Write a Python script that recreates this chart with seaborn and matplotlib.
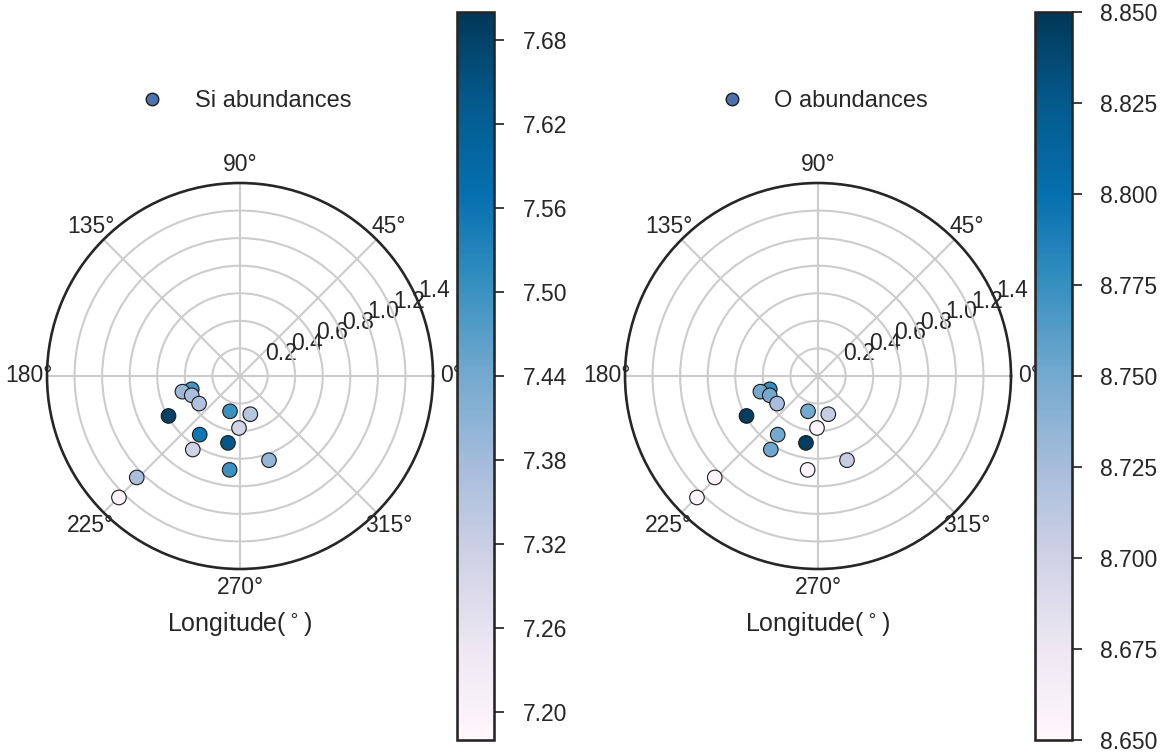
import numpy as np
import matplotlib
matplotlib.use("Agg")
import matplotlib.pyplot as plt
from matplotlib.colors import Normalize
from matplotlib.cm import ScalarMappable
from matplotlib.lines import Line2D
import pandas as pd
import seaborn as sns

# Galactic longitude (degrees) and radial distance of each star
longitude_deg = [195.4, 195.2, 201.8, 214.0, 209.2, 254.2, 285.1, 268.9,
                 235.5, 259.8, 237.3, 289.0, 263.7, 224.5, 225.1]
radial_distance = [0.363, 0.433, 0.377, 0.358, 0.594, 0.266, 0.287, 0.377,
                   0.516, 0.493, 0.634, 0.646, 0.685, 1.050, 1.244]

# Abundances per star
si_abundance = [7.49, 7.39, 7.37, 7.36, 7.68, 7.50, 7.35, 7.305,
                7.555, 7.64, 7.31, 7.40, 7.50, 7.37, 7.19]
o_abundance = [8.776, 8.750, 8.750, 8.724, 8.846, 8.750, 8.706, 8.654,
               8.750, 8.845, 8.752, 8.706, 8.654, 8.652, 8.655]

si_range = (7.18, 7.70)
o_range = (8.65, 8.85)
si_ticks = [7.20, 7.26, 7.32, 7.38, 7.44, 7.50, 7.56, 7.62, 7.68]
o_ticks = [8.650, 8.675, 8.700, 8.725, 8.750, 8.775, 8.800, 8.825, 8.850]
r_ticks = [0.2, 0.4, 0.6, 0.8, 1.0, 1.2, 1.4]

sns.set_theme(context="talk", style="white")
plt.rcParams["font.family"] = ["Liberation Sans", "DejaVu Sans"]

W, H = 1176, 753
fig = plt.figure(figsize=(W / 100, H / 100), dpi=100)

panels = [
    ("Si abundances", si_abundance, si_range, si_ticks, "%.2f", 47, 457),
    ("O abundances", o_abundance, o_range, o_ticks, "%.3f", 625, 1035),
]

for label, values, vrange, ticks, fmt, px, cx in panels:
    ax = fig.add_axes([px / W, (H - 569) / H, 386 / W, 386 / H],
                      projection="polar")
    norm = Normalize(*vrange)
    df = pd.DataFrame({
        "theta": np.deg2rad(longitude_deg),
        "r": radial_distance,
        "abund": values,
    })
    sns.scatterplot(data=df, x="theta", y="r", hue="abund", palette="PuBu",
                    hue_norm=norm, s=110, edgecolor="k", linewidth=0.8,
                    legend=False, ax=ax, zorder=3)
    ax.set_ylim(0, 1.4)
    ax.set_yticks(r_ticks)
    ax.set_rlabel_position(22.5)
    ax.set_ylabel("")
    ax.set_xlabel("Longitude($^\\circ$)", labelpad=8)
    ax.tick_params(axis="x", length=0, pad=6)
    ax.grid(True, color="#cccccc", linewidth=1.5)
    ax.spines["polar"].set_color("#262626")

    handle = Line2D([], [], marker="o", linestyle="",
                    markerfacecolor=sns.color_palette("deep")[0],
                    markeredgecolor="k", markersize=9)
    ax.legend(handles=[handle], labels=[label], loc="center",
              bbox_to_anchor=(0.5, 1.212), frameon=False, fontsize=17)

    cax = fig.add_axes([cx / W, 13 / H, 37 / W, 728 / H])
    cb = fig.colorbar(ScalarMappable(norm=norm, cmap="PuBu"), cax=cax,
                      ticks=ticks, format=fmt)
    cb.outline.set_edgecolor("#262626")
    cb.ax.tick_params(right=True, length=7.5, width=1.25, pad=13,
                      color="#262626")

fig.savefig("out.png", dpi=100)
